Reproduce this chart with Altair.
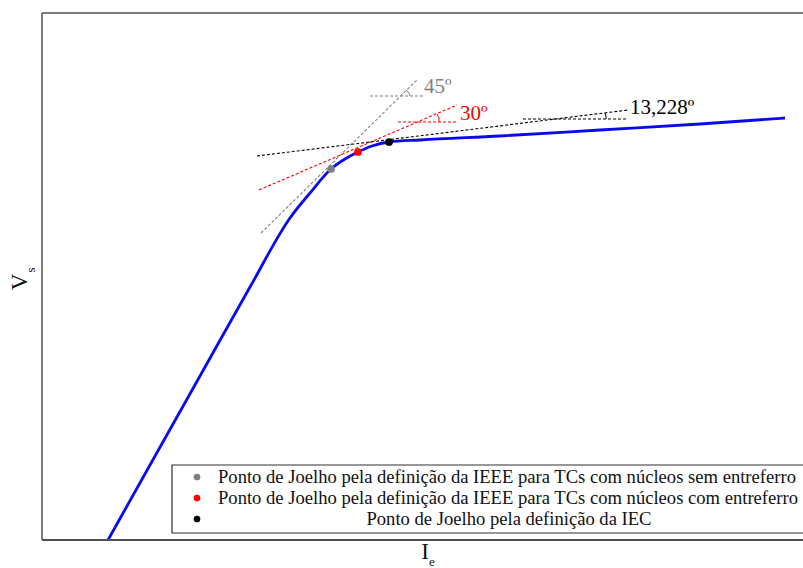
import altair as alt
import pandas as pd

# Excitation curve (arbitrary units)
ie = [66, 108, 158, 208, 248, 268, 289, 303, 316, 330, 347, 378, 458, 558, 658, 743]
vs = [0, 75, 164, 253, 322, 347, 371, 381, 388, 394, 398, 400, 404, 410, 416, 422]

# Knee points
knee_names = ["IEEE sem entreferro", "IEEE com entreferro", "IEC"]
knee_ie = [289, 316, 347]
knee_vs = [371, 388, 398]
knee_colors = ["#808080", "#ff0000", "#000000"]

# Tangent lines and horizontal references
tan_id = ["g_t", "g_t", "g_h", "g_h", "r_t", "r_t", "r_h", "r_h", "k_t", "k_t", "k_h", "k_h"]
tan_col = ["g", "g", "g", "g", "r", "r", "r", "r", "k", "k", "k", "k"]
tan_x = [219, 375, 328, 381, 217, 415, 356, 416, 215, 586, 481, 586]
tan_y = [307, 460, 444, 444, 350, 435, 418, 418, 384, 430, 421, 421]

# small angle arcs
arc_id = ["g", "g", "g", "r", "r", "r", "k", "k", "k"]
arc_x = [364, 367, 368, 395, 397, 397, 563, 564, 564]
arc_y = [450, 447, 444, 426, 422, 418, 427, 424, 421]

# angle labels
ang_text = ["45º", "30º", "13,228º"]
ang_x = [380, 416, 586]
ang_y = [453, 426, 432]
ang_col = ["g", "r", "k"]

legend_labels = [
    "Ponto de Joelho pela definição da IEEE para TCs com núcleos sem entreferro",
    "Ponto de Joelho pela definição da IEEE para TCs com núcleos com entreferro",
    "Ponto de Joelho pela definição da IEC",
]

W, H = 761, 527
FONT = "Liberation Serif"
xs = alt.Scale(domain=[0, W], nice=False, zero=False)
ys = alt.Scale(domain=[0, H], nice=False, zero=False)
col_scale = alt.Scale(domain=["g", "r", "k"], range=["#808080", "#ff0000", "#000000"])

curve_df = pd.DataFrame({"Ie": ie, "Vs": vs})
knee_df = pd.DataFrame({"name": knee_names, "Ie": knee_ie, "Vs": knee_vs, "c": ["g", "r", "k"]})
tan_df = pd.DataFrame({"id": tan_id, "c": tan_col, "x": tan_x, "y": tan_y})
arc_df = pd.DataFrame({"id": arc_id, "x": arc_x, "y": arc_y})
ang_df = pd.DataFrame({"t": ang_text, "x": ang_x, "y": ang_y, "c": ang_col})

tangents = alt.Chart(tan_df).mark_line(strokeWidth=1.1, strokeDash=[3, 2]).encode(
    x=alt.X("x:Q", scale=xs, axis=None),
    y=alt.Y("y:Q", scale=ys, axis=None),
    detail="id:N",
    color=alt.Color("c:N", scale=col_scale, legend=None),
)
arcs = alt.Chart(arc_df).mark_line(strokeWidth=1).encode(
    x=alt.X("x:Q", scale=xs, axis=None),
    y=alt.Y("y:Q", scale=ys, axis=None),
    detail="id:N",
    color=alt.Color("id:N", scale=col_scale, legend=None),
)
curve = alt.Chart(curve_df).mark_line(color="#0a0af0", strokeWidth=2.8, interpolate="monotone").encode(
    x=alt.X("Ie:Q", scale=xs, axis=None),
    y=alt.Y("Vs:Q", scale=ys, axis=None),
)
knees = alt.Chart(knee_df).mark_point(filled=True, size=60, opacity=1).encode(
    x=alt.X("Ie:Q", scale=xs, axis=None),
    y=alt.Y("Vs:Q", scale=ys, axis=None),
    color=alt.Color("c:N", scale=col_scale, legend=None),
)
angles = alt.Chart(ang_df).mark_text(font=FONT, fontSize=21, align="left", baseline="middle", dx=2).encode(
    x=alt.X("x:Q", scale=xs, axis=None),
    y=alt.Y("y:Q", scale=ys, axis=None),
    text="t:N",
    color=alt.Color("c:N", scale=col_scale, legend=None),
)

frame_col = "#505050"
frame = [
    alt.Chart().mark_rule(color=frame_col, strokeWidth=1.5).encode(x=alt.value(0), y=alt.value(0), y2=alt.value(H)),
    alt.Chart().mark_rule(color=frame_col, strokeWidth=2).encode(x=alt.value(0), x2=alt.value(W), y=alt.value(H)),
    alt.Chart().mark_rule(color=frame_col, strokeWidth=1.5).encode(x=alt.value(0), x2=alt.value(W), y=alt.value(0)),
]

# Legend box
leg_box = alt.Chart().mark_rect(fill="white", stroke="#303030", strokeWidth=1.2).encode(
    x=alt.value(130), x2=alt.value(800), y=alt.value(452), y2=alt.value(520)
)
leg_items = []
leg_ys = [464, 485, 506]
for i, lab in enumerate(legend_labels):
    leg_items.append(
        alt.Chart().mark_point(filled=True, size=45, opacity=1, color=knee_colors[i]).encode(
            x=alt.value(155), y=alt.value(leg_ys[i])
        )
    )
    if i < 2:
        leg_items.append(
            alt.Chart().mark_text(text=lab, font=FONT, fontSize=18.6, align="left", baseline="middle", color="#111").encode(
                x=alt.value(176), y=alt.value(leg_ys[i])
            )
        )
    else:
        leg_items.append(
            alt.Chart().mark_text(text=lab, font=FONT, fontSize=18.6, align="center", baseline="middle", color="#111").encode(
                x=alt.value(467), y=alt.value(leg_ys[i])
            )
        )

titles = [
    alt.Chart().mark_text(text="V", font=FONT, fontSize=23, angle=270, align="center", baseline="middle", color="#111").encode(
        x=alt.value(-22), y=alt.value(269)
    ),
    alt.Chart().mark_text(text="s", font=FONT, fontSize=13, angle=270, align="center", baseline="middle", color="#111").encode(
        x=alt.value(-11), y=alt.value(257)
    ),
    alt.Chart().mark_text(text="I", font=FONT, fontSize=23, align="center", baseline="middle", color="#111").encode(
        x=alt.value(383), y=alt.value(539)
    ),
    alt.Chart().mark_text(text="e", font=FONT, fontSize=13, align="center", baseline="middle", color="#111").encode(
        x=alt.value(390), y=alt.value(549)
    ),
]

chart = alt.layer(
    tangents, arcs, curve, knees, angles, *frame, leg_box, *leg_items, *titles
).properties(
    width=W, height=H,
    autosize=alt.AutoSizeParams(type="none"),
    padding={"left": 42, "top": 13, "right": 0, "bottom": 28},
    background="white",
).configure_view(stroke=None)

chart.save("out.html", embed_options={"renderer": "svg", "actions": False})
